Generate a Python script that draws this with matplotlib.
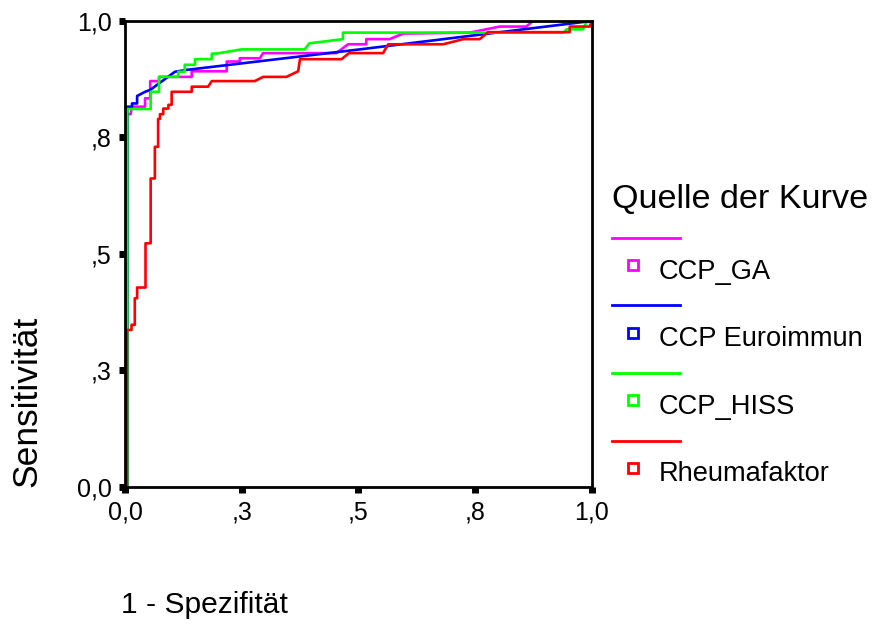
import numpy as np
import matplotlib
matplotlib.use("Agg")
import matplotlib.pyplot as plt
from matplotlib.lines import Line2D

plt.rcParams['font.family'] = ['Liberation Sans', 'DejaVu Sans']

# ROC curves: (1 - specificity, sensitivity)
ga_x = [0.0, 0.005, 0.005, 0.012, 0.015, 0.043, 0.043, 0.054, 0.054, 0.073, 0.073, 0.143, 0.143,
        0.218, 0.218, 0.246, 0.246, 0.289, 0.296, 0.453, 0.478, 0.517, 0.517, 0.567, 0.596, 0.739,
        0.803, 0.860, 0.874, 1.0]
ga_y = [0.0, 0.0, 0.80, 0.80, 0.816, 0.816, 0.834, 0.834, 0.871, 0.871, 0.880, 0.880, 0.892,
        0.892, 0.913, 0.913, 0.920, 0.920, 0.931, 0.931, 0.950, 0.950, 0.961, 0.961, 0.973, 0.975,
        0.988, 0.988, 1.0, 1.0]

eu_x = [0.0, 0.005, 0.005, 0.015, 0.015, 0.026, 0.026, 0.043, 0.054, 0.107, 0.132, 0.503, 1.0]
eu_y = [0.0, 0.0, 0.816, 0.816, 0.823, 0.823, 0.839, 0.848, 0.852, 0.891, 0.895, 0.939, 1.0]

hiss_x = [0.0, 0.005, 0.005, 0.055, 0.055, 0.073, 0.073, 0.114, 0.114, 0.128, 0.128, 0.150, 0.150,
          0.186, 0.186, 0.196, 0.250, 0.385, 0.395, 0.467, 0.467, 0.940, 0.946, 0.981, 0.990, 1.0]
hiss_y = [0.0, 0.0, 0.811, 0.811, 0.848, 0.848, 0.880, 0.880, 0.891, 0.891, 0.906, 0.906, 0.918,
          0.918, 0.930, 0.930, 0.939, 0.939, 0.952, 0.961, 0.975, 0.975, 0.982, 0.982, 1.0, 1.0]

rf_x = [0.0, 0.004, 0.004, 0.014, 0.014, 0.021, 0.021, 0.026, 0.026, 0.044, 0.044, 0.055, 0.055,
        0.064, 0.064, 0.071, 0.071, 0.075, 0.075, 0.082, 0.082, 0.093, 0.093, 0.100, 0.100, 0.143,
        0.143, 0.178, 0.186, 0.278, 0.296, 0.346, 0.371, 0.375, 0.464, 0.480, 0.553, 0.564, 0.682,
        0.725, 0.760, 0.778, 0.953, 0.953, 0.996, 1.0]
rf_y = [0.0, 0.0, 0.337, 0.337, 0.348, 0.348, 0.405, 0.405, 0.428, 0.428, 0.523, 0.523, 0.662,
        0.662, 0.730, 0.730, 0.790, 0.790, 0.800, 0.800, 0.812, 0.812, 0.820, 0.820, 0.848, 0.848,
        0.859, 0.859, 0.871, 0.871, 0.880, 0.880, 0.892, 0.918, 0.918, 0.931, 0.931, 0.950, 0.950,
        0.961, 0.961, 0.976, 0.976, 0.988, 0.988, 1.0]

names = ["CCP_GA", "CCP Euroimmun", "CCP_HISS", "Rheumafaktor"]
colors = ["#ff00ff", "#0000ff", "#00ff00", "#ff0000"]
curves = [(ga_x, ga_y), (eu_x, eu_y), (hiss_x, hiss_y), (rf_x, rf_y)]

ticks = [0.0, 0.25, 0.5, 0.75, 1.0]
tick_labels = ["0,0", ",3", ",5", ",8", "1,0"]

fig = plt.figure(figsize=(8.74, 6.24), dpi=100)
ax = fig.add_axes([0.143, 0.2196, 0.534, 0.7468])

for (x, y), c in zip(curves, colors):
    ax.plot(x, y, color=c, lw=1.9)

ax.set_xlim(0, 1)
ax.set_ylim(0, 1)
ax.set_xticks(ticks)
ax.set_yticks(ticks)
ax.set_xticklabels(tick_labels)
ax.set_yticklabels(tick_labels)
ax.tick_params(direction='out', length=4.5, width=5, labelsize=18, pad=5, color='black')
for s in ax.spines.values():
    s.set_linewidth(2)

fig.text(0.031, 0.357, "Sensitivität", rotation=90, fontsize=25.5, ha='center', va='center')
fig.text(0.139, 0.017, "1 - Spezifität", fontsize=21.6, ha='left', va='baseline')

# legend, SPSS style: line above, small square marker + label below
fig.text(0.700, 0.68, "Quelle der Kurve", fontsize=24.6, ha='left', va='center')
for i, (n, c) in enumerate(zip(names, colors)):
    ly = 1 - (238 + 67.5 * i) / 624
    my = 1 - (265 + 67.5 * i) / 624
    fig.add_artist(Line2D([0.700, 0.778], [ly, ly], color=c, lw=2, transform=fig.transFigure))
    fig.add_artist(Line2D([0.724], [my], marker='s', markersize=7, markerfacecolor='white',
                          markeredgecolor=c, markeredgewidth=2, transform=fig.transFigure))
    fig.text(0.754, my - 0.011, n, fontsize=19.6, ha='left', va='center')

fig.savefig("out.png", dpi=100)
